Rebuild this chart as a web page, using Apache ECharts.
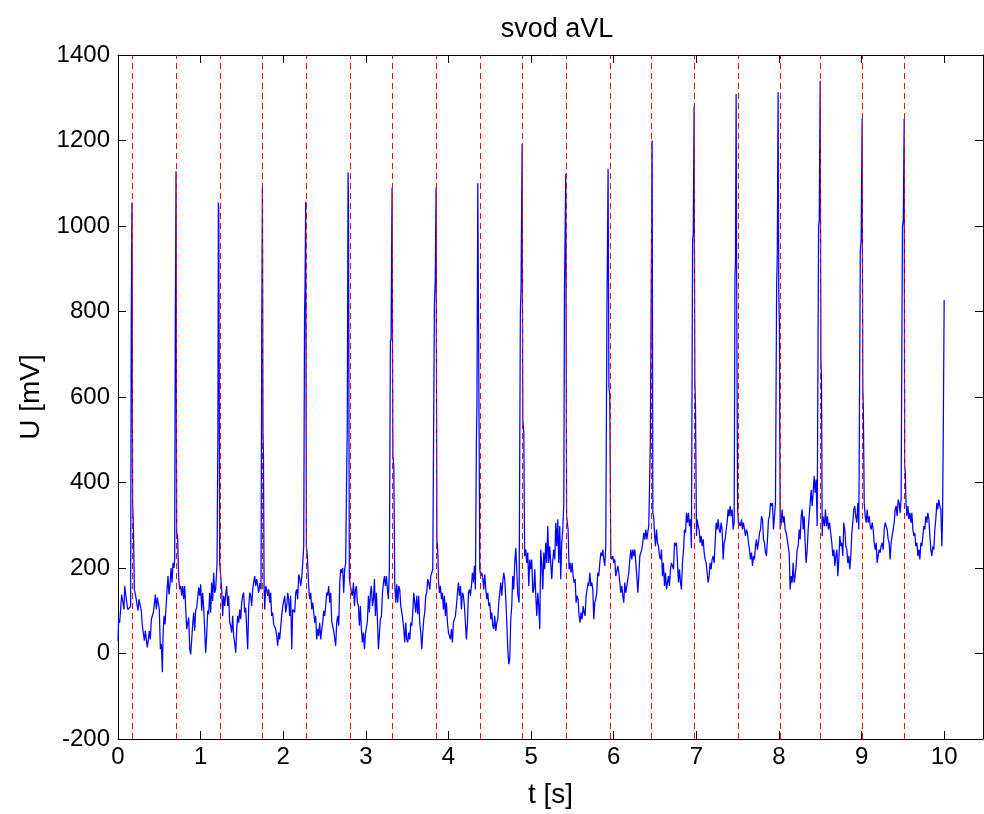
<!DOCTYPE html>
<html>
<head>
<meta charset="utf-8">
<script src="https://cdn.jsdelivr.net/npm/echarts@6/dist/echarts.min.js"></script>
<style>
html,body{margin:0;padding:0;background:#fff;}
#chart{width:984px;height:814px;}
</style>
</head>
<body>
<div id="chart"></div>
<script>
// ECG lead aVL: [time s, voltage mV]
const ecgSamples = [
[0.000,30],[0.008,80],[0.020,72],[0.032,76],[0.044,138],[0.061,142],[0.073,103],[0.081,158],[0.101,162],[0.117,103],[0.129,107],[0.141,103],[0.153,110],[0.160,757],[0.169,1055],[0.177,355],[0.187,290],[0.198,150],[0.214,135],[0.230,138],[0.242,100],[0.254,127],[0.270,123],[0.282,100],[0.295,65],[0.307,68],[0.319,30],[0.331,53],[0.343,57],[0.355,14],[0.367,10],[0.379,53],[0.391,33],[0.404,80],[0.416,88],[0.428,96],[0.440,115],[0.452,138],[0.464,103],[0.476,131],[0.488,127],[0.500,103],[0.513,10],[0.525,22],[0.537,-44],[0.545,41],[0.557,88],[0.569,68],[0.581,72],[0.593,146],[0.605,181],[0.617,138],[0.630,162],[0.642,200],[0.654,166],[0.666,212],[0.678,200],[0.686,220],[0.694,803],[0.698,920],[0.702,1128],[0.710,285],[0.722,270],[0.734,177],[0.747,150],[0.759,158],[0.771,135],[0.783,158],[0.795,127],[0.807,158],[0.819,162],[0.831,57],[0.843,53],[0.856,84],[0.868,10],[0.880,-2],[0.892,33],[0.904,68],[0.916,96],[0.928,53],[0.940,100],[0.952,107],[0.964,111],[0.977,154],[0.989,135],[1.001,162],[1.013,100],[1.025,142],[1.037,107],[1.049,57],[1.061,2],[1.073,41],[1.086,100],[1.098,92],[1.110,142],[1.122,96],[1.134,166],[1.146,123],[1.158,189],[1.170,142],[1.182,150],[1.199,212],[1.205,407],[1.209,500],[1.215,1055],[1.220,1037],[1.231,212],[1.243,181],[1.255,150],[1.267,88],[1.279,135],[1.291,111],[1.303,138],[1.315,158],[1.328,111],[1.340,135],[1.352,72],[1.364,65],[1.376,49],[1.388,88],[1.400,41],[1.412,26],[1.425,2],[1.437,57],[1.449,88],[1.461,72],[1.473,103],[1.485,80],[1.497,119],[1.509,135],[1.521,142],[1.533,96],[1.546,107],[1.558,57],[1.570,10],[1.582,107],[1.594,142],[1.606,135],[1.618,111],[1.630,150],[1.642,166],[1.655,181],[1.667,158],[1.679,174],[1.691,158],[1.703,142],[1.718,165],[1.731,150],[1.740,757],[1.748,1093],[1.755,516],[1.761,460],[1.768,158],[1.776,103],[1.788,158],[1.800,150],[1.812,135],[1.824,150],[1.836,119],[1.848,142],[1.860,88],[1.872,96],[1.885,68],[1.897,72],[1.909,57],[1.921,41],[1.933,18],[1.945,49],[1.957,33],[1.969,61],[1.981,88],[1.994,111],[2.006,111],[2.018,135],[2.030,96],[2.042,111],[2.054,142],[2.066,127],[2.078,88],[2.090,135],[2.103,10],[2.115,103],[2.127,100],[2.139,96],[2.151,142],[2.163,150],[2.175,127],[2.187,185],[2.199,177],[2.211,158],[2.224,177],[2.236,212],[2.248,251],[2.258,795],[2.264,857],[2.272,1056],[2.280,251],[2.292,228],[2.308,158],[2.320,127],[2.333,142],[2.345,103],[2.357,119],[2.369,96],[2.381,72],[2.393,88],[2.405,33],[2.417,57],[2.429,41],[2.441,72],[2.454,33],[2.466,57],[2.478,72],[2.490,100],[2.502,88],[2.514,111],[2.526,142],[2.538,135],[2.550,158],[2.563,119],[2.575,142],[2.587,76],[2.599,80],[2.611,53],[2.623,49],[2.635,18],[2.647,72],[2.659,88],[2.672,65],[2.684,166],[2.696,197],[2.708,189],[2.720,200],[2.732,142],[2.744,197],[2.756,212],[2.768,430],[2.775,523],[2.785,1125],[2.790,1060],[2.800,177],[2.812,160],[2.825,142],[2.837,135],[2.850,166],[2.862,111],[2.874,150],[2.886,158],[2.898,119],[2.910,111],[2.922,65],[2.934,111],[2.946,57],[2.958,26],[2.971,49],[2.983,10],[2.995,46],[3.007,49],[3.019,76],[3.031,135],[3.043,96],[3.055,142],[3.067,158],[3.080,111],[3.092,127],[3.104,174],[3.116,88],[3.128,142],[3.140,80],[3.152,10],[3.164,10],[3.176,80],[3.189,88],[3.201,142],[3.213,166],[3.225,181],[3.237,158],[3.249,181],[3.261,150],[3.273,127],[3.285,197],[3.297,730],[3.305,735],[3.317,1090],[3.327,465],[3.338,438],[3.350,162],[3.362,119],[3.374,162],[3.386,119],[3.398,158],[3.410,150],[3.423,111],[3.435,96],[3.447,80],[3.459,57],[3.471,26],[3.483,72],[3.495,33],[3.507,26],[3.519,49],[3.532,33],[3.544,72],[3.556,65],[3.568,96],[3.580,142],[3.592,138],[3.604,96],[3.616,135],[3.628,92],[3.640,135],[3.652,72],[3.665,49],[3.677,10],[3.689,49],[3.701,80],[3.713,96],[3.725,135],[3.737,142],[3.749,174],[3.761,166],[3.774,150],[3.786,181],[3.798,189],[3.810,197],[3.830,820],[3.840,873],[3.850,1090],[3.860,267],[3.870,243],[3.880,166],[3.891,142],[3.903,158],[3.915,127],[3.927,142],[3.939,103],[3.951,135],[3.963,88],[3.975,119],[3.988,72],[4.000,49],[4.012,53],[4.024,33],[4.036,57],[4.048,26],[4.060,72],[4.072,80],[4.084,88],[4.096,111],[4.109,142],[4.121,166],[4.133,135],[4.145,158],[4.157,103],[4.169,142],[4.181,135],[4.193,111],[4.205,72],[4.217,33],[4.230,72],[4.242,142],[4.254,150],[4.266,135],[4.278,158],[4.290,189],[4.302,166],[4.314,205],[4.326,150],[4.338,500],[4.345,585],[4.355,1100],[4.363,820],[4.379,197],[4.391,181],[4.403,189],[4.415,177],[4.427,150],[4.439,185],[4.452,150],[4.464,127],[4.476,142],[4.488,111],[4.500,119],[4.512,80],[4.524,96],[4.536,65],[4.548,57],[4.560,88],[4.573,53],[4.585,72],[4.597,80],[4.609,119],[4.621,142],[4.633,166],[4.645,135],[4.657,166],[4.669,189],[4.681,174],[4.694,127],[4.706,72],[4.718,10],[4.730,-25],[4.742,-13],[4.754,80],[4.766,111],[4.778,181],[4.790,150],[4.802,212],[4.815,247],[4.827,247],[4.839,140],[4.855,119],[4.870,795],[4.879,858],[4.891,1191],[4.900,546],[4.912,515],[4.922,228],[4.936,243],[4.948,212],[4.960,236],[4.972,158],[4.984,220],[4.996,197],[5.008,220],[5.021,142],[5.033,150],[5.045,197],[5.057,135],[5.069,88],[5.081,142],[5.093,111],[5.105,57],[5.117,243],[5.129,212],[5.142,150],[5.154,236],[5.166,197],[5.178,259],[5.190,212],[5.202,298],[5.214,212],[5.226,251],[5.238,212],[5.250,174],[5.263,220],[5.275,243],[5.287,220],[5.299,306],[5.311,251],[5.323,314],[5.335,212],[5.347,298],[5.359,174],[5.371,259],[5.384,290],[5.396,352],[5.404,850],[5.410,943],[5.420,1122],[5.430,321],[5.448,290],[5.460,197],[5.472,212],[5.484,189],[5.497,212],[5.509,181],[5.521,166],[5.533,174],[5.545,119],[5.557,135],[5.569,127],[5.581,88],[5.593,72],[5.605,96],[5.618,80],[5.630,111],[5.642,96],[5.654,88],[5.666,135],[5.678,150],[5.690,166],[5.698,158],[5.711,189],[5.723,158],[5.735,166],[5.747,150],[5.759,80],[5.771,119],[5.783,127],[5.795,142],[5.807,189],[5.819,181],[5.832,212],[5.844,236],[5.856,228],[5.868,243],[5.880,220],[5.892,205],[5.904,251],[5.918,796],[5.924,800],[5.932,1134],[5.942,624],[5.952,605],[5.965,228],[5.977,220],[5.989,228],[6.001,212],[6.013,220],[6.025,181],[6.037,181],[6.050,205],[6.062,189],[6.074,166],[6.086,142],[6.098,158],[6.110,135],[6.122,119],[6.134,166],[6.146,142],[6.159,158],[6.171,174],[6.183,189],[6.195,220],[6.207,243],[6.219,220],[6.231,243],[6.243,228],[6.255,243],[6.268,212],[6.280,181],[6.292,142],[6.304,181],[6.316,228],[6.328,236],[6.340,243],[6.352,259],[6.364,282],[6.376,267],[6.389,290],[6.401,267],[6.425,300],[6.443,492],[6.465,1200],[6.474,329],[6.483,321],[6.494,282],[6.506,251],[6.518,290],[6.530,259],[6.542,251],[6.554,228],[6.566,220],[6.578,243],[6.590,181],[6.602,212],[6.615,158],[6.627,189],[6.639,150],[6.651,166],[6.663,181],[6.675,158],[6.687,197],[6.699,212],[6.711,212],[6.724,197],[6.736,259],[6.748,251],[6.760,259],[6.772,212],[6.784,166],[6.796,197],[6.808,166],[6.820,150],[6.832,212],[6.845,243],[6.857,290],[6.869,282],[6.881,329],[6.893,306],[6.905,329],[6.917,298],[6.929,314],[6.941,247],[6.955,967],[6.963,982],[6.973,1280],[6.982,640],[6.990,578],[7.002,275],[7.010,314],[7.022,298],[7.034,290],[7.046,259],[7.059,275],[7.071,251],[7.083,267],[7.095,236],[7.107,220],[7.119,212],[7.131,189],[7.143,166],[7.155,181],[7.167,212],[7.179,197],[7.191,220],[7.204,228],[7.216,212],[7.228,259],[7.240,306],[7.252,290],[7.264,314],[7.276,290],[7.288,282],[7.300,306],[7.312,290],[7.325,220],[7.337,259],[7.349,267],[7.361,290],[7.373,306],[7.385,337],[7.397,321],[7.409,345],[7.421,321],[7.433,337],[7.446,290],[7.458,306],[7.468,880],[7.474,920],[7.482,1309],[7.490,790],[7.500,337],[7.512,298],[7.523,306],[7.535,298],[7.547,314],[7.559,290],[7.571,306],[7.583,290],[7.595,275],[7.607,290],[7.619,282],[7.631,259],[7.644,243],[7.656,220],[7.668,236],[7.680,205],[7.692,228],[7.704,220],[7.716,251],[7.728,267],[7.740,243],[7.752,259],[7.765,282],[7.777,290],[7.789,321],[7.801,314],[7.813,267],[7.825,259],[7.837,236],[7.849,228],[7.861,267],[7.874,314],[7.886,321],[7.898,352],[7.910,345],[7.922,352],[7.934,290],[7.946,321],[7.958,352],[7.972,858],[7.980,935],[7.990,1313],[7.998,842],[8.006,765],[8.015,290],[8.027,306],[8.039,337],[8.051,306],[8.063,321],[8.075,290],[8.088,282],[8.100,282],[8.112,251],[8.124,236],[8.136,150],[8.148,181],[8.160,166],[8.172,212],[8.184,166],[8.196,181],[8.208,205],[8.220,243],[8.233,251],[8.245,290],[8.257,267],[8.269,321],[8.281,337],[8.293,290],[8.305,321],[8.317,259],[8.329,212],[8.342,243],[8.354,290],[8.366,321],[8.378,352],[8.390,383],[8.402,345],[8.414,376],[8.426,415],[8.438,376],[8.450,407],[8.463,298],[8.480,998],[8.488,1013],[8.499,1340],[8.508,686],[8.515,640],[8.524,275],[8.532,321],[8.539,321],[8.551,298],[8.563,337],[8.575,298],[8.587,321],[8.599,290],[8.612,306],[8.628,306],[8.640,259],[8.652,228],[8.665,243],[8.677,205],[8.689,228],[8.701,243],[8.713,181],[8.725,220],[8.737,275],[8.749,251],[8.761,259],[8.773,228],[8.785,306],[8.797,290],[8.810,251],[8.822,243],[8.834,212],[8.846,228],[8.858,197],[8.870,228],[8.882,282],[8.894,306],[8.906,337],[8.918,345],[8.930,321],[8.942,306],[8.955,352],[8.967,290],[8.985,943],[8.995,966],[9.007,1251],[9.015,624],[9.022,570],[9.032,352],[9.044,321],[9.056,306],[9.068,337],[9.080,306],[9.093,321],[9.105,298],[9.117,290],[9.129,306],[9.141,290],[9.153,259],[9.165,243],[9.177,259],[9.189,212],[9.201,228],[9.213,243],[9.225,236],[9.237,251],[9.249,259],[9.262,243],[9.274,290],[9.286,306],[9.298,298],[9.310,290],[9.322,267],[9.334,259],[9.346,220],[9.358,259],[9.370,275],[9.383,290],[9.395,306],[9.407,337],[9.419,345],[9.431,321],[9.443,360],[9.455,352],[9.467,329],[9.479,360],[9.495,998],[9.505,1013],[9.516,1251],[9.522,438],[9.530,423],[9.538,352],[9.548,321],[9.561,345],[9.573,314],[9.585,329],[9.597,306],[9.609,329],[9.621,290],[9.633,275],[9.645,282],[9.657,251],[9.670,259],[9.682,228],[9.694,243],[9.706,220],[9.718,259],[9.730,251],[9.742,275],[9.754,298],[9.766,290],[9.778,321],[9.790,306],[9.802,329],[9.815,314],[9.827,275],[9.839,243],[9.851,228],[9.863,251],[9.875,243],[9.887,290],[9.899,314],[9.911,352],[9.923,337],[9.935,360],[9.948,345],[9.960,337],[9.972,251],[9.980,314],[9.988,485],[10.000,827]
];

// detected R-peak times (red dashed markers), seconds
const rPeakTimes = [0.169,0.702,1.235,1.743,2.276,2.809,3.317,3.850,4.383,4.891,5.424,5.956,6.465,6.973,7.506,8.015,8.499,9.007,9.516];

// axis ticks
const xTicks = [0,1,2,3,4,5,6,7,8,9,10];
const yTicks = [-200,0,200,400,600,800,1000,1200,1400];
const xLimit = 10.47;

const font = 'Liberation Sans, Arial, Helvetica, sans-serif';
const chart = echarts.init(document.getElementById('chart'), null, {renderer:'canvas'});

function xAx(pos, withLabels){
  return {
    type:'value', position:pos, gridIndex:0,
    min:xTicks[0], max:xLimit, interval:xTicks[1]-xTicks[0],
    axisLine:{show:true, onZero:false, lineStyle:{color:'#000', width:1}},
    axisTick:{show:true, inside:true, length:8, lineStyle:{color:'#000'}},
    axisLabel:{show:withLabels, color:'#000', fontFamily:font, fontSize:24, margin:6,
               showMaxLabel:false, formatter:v => String(v)},
    splitLine:{show:false},
    name: withLabels ? 't [s]' : '',
    nameLocation:'middle', nameGap:42,
    nameTextStyle:{color:'#000', fontFamily:font, fontSize:28}
  };
}
function yAx(pos, withLabels){
  return {
    type:'value', position:pos, gridIndex:0,
    min:yTicks[0], max:yTicks[yTicks.length-1], interval:yTicks[1]-yTicks[0],
    axisLine:{show:true, onZero:false, lineStyle:{color:'#000', width:1}},
    axisTick:{show:true, inside:true, length:8, lineStyle:{color:'#000'}},
    axisLabel:{show:withLabels, color:'#000', fontFamily:font, fontSize:24, margin:8,
               formatter:v => String(v)},
    splitLine:{show:false},
    name: withLabels ? 'U [mV]' : '',
    nameLocation:'middle', nameGap:58, nameRotate:90,
    nameTextStyle:{color:'#000', fontFamily:font, fontSize:28}
  };
}

chart.setOption({
  backgroundColor:'#ffffff',
  animation:false,
  title:{
    text:'svod aVL', left:552, top:11, textAlign:'center',
    textStyle:{color:'#000', fontFamily:font, fontSize:27, fontWeight:'normal'}
  },
  grid:{left:118, top:55, width:865, height:685, containLabel:false},
  xAxis:[xAx('bottom', true), xAx('top', false)],
  yAxis:[yAx('left', true), yAx('right', false)],
  series:[
    {
      type:'line', xAxisIndex:0, yAxisIndex:0,
      data: ecgSamples,
      showSymbol:false, symbol:'none', sampling:null,
      lineStyle:{color:'#0000ff', width:1.25},
      itemStyle:{color:'#0000ff'},
      silent:true, z:2
    },
    {
      type:'line', xAxisIndex:0, yAxisIndex:0, data:[], z:3, silent:true,
      markLine:{
        silent:true, symbol:['none','none'], animation:false,
        label:{show:false},
        lineStyle:{color:'#ff0000', width:1, type:[6,4]},
        data: rPeakTimes.map(t => ({xAxis:t}))
      }
    }
  ]
});
</script>
</body>
</html>
